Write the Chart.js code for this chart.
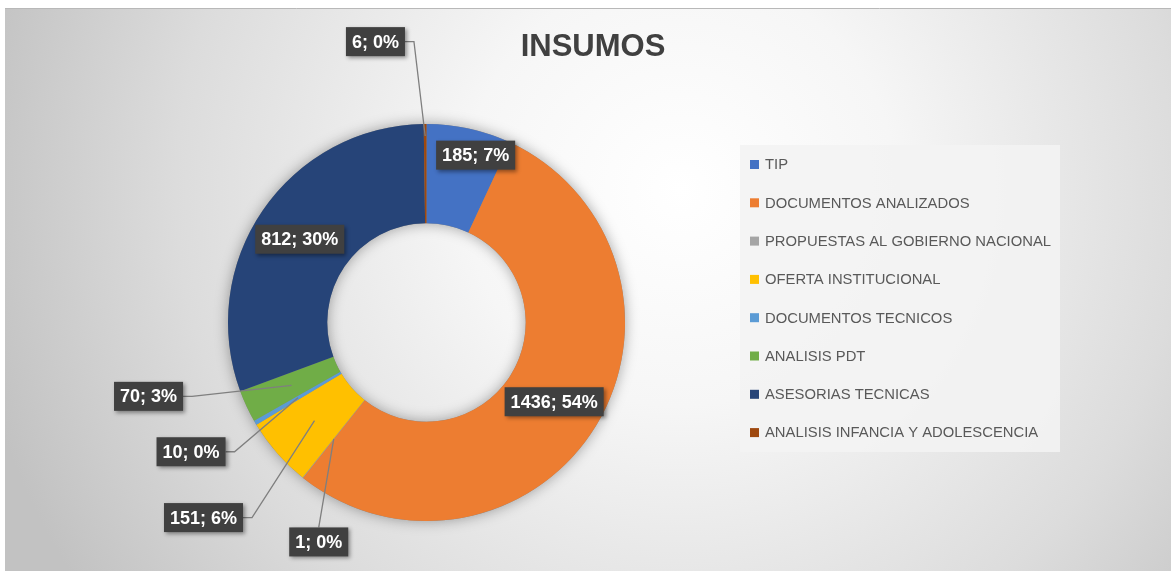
<!DOCTYPE html>
<html>
<head>
<meta charset="utf-8">
<script src="https://cdn.jsdelivr.net/npm/chart.js@4"></script>
<style>
html,body{margin:0;padding:0;background:#fff;}
canvas{display:block;}
</style>
</head>
<body>
<canvas id="c" width="1171" height="571"></canvas>
<script>
const chartTitle = 'INSUMOS';
const categories = ['TIP','DOCUMENTOS ANALIZADOS','PROPUESTAS AL GOBIERNO NACIONAL','OFERTA INSTITUCIONAL','DOCUMENTOS TECNICOS','ANALISIS PDT','ASESORIAS TECNICAS','ANALISIS INFANCIA Y ADOLESCENCIA'];
const values = [185, 1436, 1, 151, 10, 70, 812, 6];
const colors = ['#4472C4','#ED7D31','#A5A5A5','#FFC000','#5B9BD5','#70AD47','#264478','#9E480E'];

// data-label placement: offset of the label box from the slice centroid, and leader style
const labelDx = [17, 1, -15, -111, -107, -143, -4, -50];
const labelDy = [-22, 1, 103, 97, 54, 11, 1, -132];
const leaderSide = ['none','none','top','right','right','right','none','right'];
const leaderAnchor = ['center','center','center','center','center','center','center','outer'];

const bgPlugin = {
  id: 'bg',
  beforeDraw(chart) {
    const ctx = chart.ctx;
    ctx.save();
    ctx.fillStyle = '#ffffff';
    ctx.fillRect(0, 0, chart.width, chart.height);
    const g = ctx.createRadialGradient(680, 190, 0, 680, 190, 720);
    g.addColorStop(0, '#ffffff');
    g.addColorStop(0.3, '#f6f6f6');
    g.addColorStop(0.7, '#dcdcdc');
    g.addColorStop(1, '#c2c2c2');
    ctx.fillStyle = g;
    ctx.fillRect(5, 8, chart.width - 5, chart.height - 8);
    ctx.strokeStyle = '#b8b8b8';
    ctx.lineWidth = 1;
    ctx.beginPath();
    ctx.moveTo(5, 8.5); ctx.lineTo(chart.width, 8.5);
    ctx.stroke();
    ctx.restore();
  },
  beforeDatasetsDraw(chart) {
    const meta = chart.getDatasetMeta(0);
    if (!meta.data.length) return;
    const a = meta.data[0];
    const ctx = chart.ctx;
    ctx.save();
    ctx.shadowColor = 'rgba(0,0,0,0.35)';
    ctx.shadowBlur = 14;
    ctx.fillStyle = '#888';
    ctx.beginPath();
    ctx.arc(a.x, a.y, a.outerRadius, 0, Math.PI * 2);
    ctx.arc(a.x, a.y, a.innerRadius, 0, Math.PI * 2, true);
    ctx.fill();
    ctx.restore();
  }
};

const overlayPlugin = {
  id: 'overlay',
  afterDraw(chart) {
    const ctx = chart.ctx;
    const meta = chart.getDatasetMeta(0);
    const data = chart.data.datasets[0].data;
    const total = data.reduce((s, v) => s + v, 0);

    // Title
    ctx.save();
    ctx.fillStyle = '#404040';
    ctx.font = 'bold 31px "Liberation Sans", Arial, sans-serif';
    ctx.textAlign = 'center';
    ctx.textBaseline = 'middle';
    ctx.fillText(chartTitle, 593, 47);
    ctx.restore();

    // Data labels with leader lines
    ctx.save();
    ctx.font = 'bold 18px "Liberation Sans", Arial, sans-serif';
    meta.data.forEach((arc, i) => {
      const mid = (arc.startAngle + arc.endAngle) / 2;
      const rc = leaderAnchor[i] === 'outer' ? arc.outerRadius - 12 : (arc.innerRadius + arc.outerRadius) / 2;
      const ax = arc.x + Math.cos(mid) * rc;
      const ay = arc.y + Math.sin(mid) * rc;
      const cx0 = arc.x + Math.cos(mid) * (arc.innerRadius + arc.outerRadius) / 2;
      const cy0 = arc.y + Math.sin(mid) * (arc.innerRadius + arc.outerRadius) / 2;
      const lx = cx0 + labelDx[i];
      const ly = cy0 + labelDy[i];
      const pct = Math.round(data[i] / total * 100);
      const text = data[i] + '; ' + pct + '%';
      const tw = ctx.measureText(text).width;
      const bw = tw + 12, bh = 29;
      const bx = lx - bw / 2, by = ly - bh / 2;
      // leader
      if (leaderSide[i] !== 'none') {
        ctx.strokeStyle = '#7f7f7f';
        ctx.lineWidth = 1.3;
        ctx.beginPath();
        if (leaderSide[i] === 'right') {
          ctx.moveTo(bx + bw, ly);
          ctx.lineTo(bx + bw + 9, ly);
        } else {
          ctx.moveTo(lx, by);
        }
        ctx.lineTo(ax, ay);
        ctx.stroke();
      }
      ctx.save();
      ctx.shadowColor = 'rgba(0,0,0,0.4)';
      ctx.shadowBlur = 4;
      ctx.shadowOffsetX = 2;
      ctx.shadowOffsetY = 2;
      ctx.fillStyle = '#404040';
      ctx.fillRect(bx, by, bw, bh);
      ctx.restore();
      ctx.fillStyle = '#ffffff';
      ctx.textAlign = 'center';
      ctx.textBaseline = 'middle';
      ctx.fillText(text, lx, ly + 1);
    });
    ctx.restore();

    // Legend
    ctx.save();
    ctx.fillStyle = 'rgba(243,243,243,0.9)';
    ctx.fillRect(740, 145, 320, 307);
    ctx.font = '14px "Liberation Sans", Arial, sans-serif';
    const longest = Math.max(...chart.data.labels.map(l => ctx.measureText(l).width));
    const sx = 286 / longest;
    chart.data.labels.forEach((lab, i) => {
      const y = 164.5 + i * 38.3;
      ctx.fillStyle = colors[i];
      ctx.fillRect(750, y - 4.5, 9, 9);
      ctx.save();
      ctx.translate(765, y);
      ctx.scale(sx, 1);
      ctx.fillStyle = '#595959';
      ctx.textAlign = 'left';
      ctx.textBaseline = 'middle';
      ctx.fillText(lab, 0, 1);
      ctx.restore();
    });
    ctx.restore();
  }
};

new Chart(document.getElementById('c'), {
  type: 'doughnut',
  data: {
    labels: categories,
    datasets: [{
      data: values,
      backgroundColor: colors,
      borderWidth: 0
    }]
  },
  options: {
    responsive: false,
    animation: false,
    cutout: '50%',
    layout: { padding: { left: 228, top: 124, right: 546, bottom: 50 } },
    plugins: {
      legend: { display: false },
      tooltip: { enabled: false },
      title: { display: false }
    }
  },
  plugins: [bgPlugin, overlayPlugin]
});
</script>
</body>
</html>
